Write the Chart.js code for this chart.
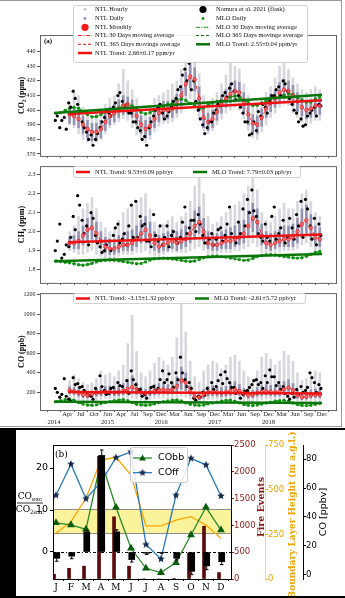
<!DOCTYPE html>
<html>
<head>
<title>NTL greenhouse gases</title>
<script src="https://cdn.jsdelivr.net/npm/chart.js@4.4.1/dist/chart.umd.min.js"></script>
<style>
  body { margin: 0; width: 345px; height: 598px; background: #fff; position: relative; overflow: hidden; }
  canvas { position: absolute; }
  #fig { position: absolute; left: 0; top: 0; width: 342px; height: 427px; border-top: 1px solid #999; border-right: 1px solid #999; border-bottom: 1px solid #999; box-sizing: border-box; }
  #dark { position: absolute; left: 0; top: 428px; width: 345px; height: 170px; background: #000; }
</style>
</head>
<body>
<div id="fig"></div>
<div id="dark"></div>
<canvas id="co2" width="345" height="161" style="left:0;top:0"></canvas>
<canvas id="ch4" width="345" height="127" style="left:0;top:161px"></canvas>
<canvas id="co" width="345" height="140" style="left:0;top:288px"></canvas>
<canvas id="seas" width="329" height="166" style="left:16px;top:430px;background:#fff"></canvas>

<script>
// ---- panel (a): monthly values, index 0 = Jan 2014 ----
const xTickPos = [0,3,6,9,12,15,18,21,24,27,30,33,36,39,42,45,48,51,54,57,60];
const xTickLabels = [['','2014'],'Apr','Jul','Oct',['Jan','2015'],'Apr','Jul','Sep',['Dec','2016'],'Mar','Jun','Sep',
  ['Dec','2017'],'Mar','Jun','Sep',['Dec','2018'],'Mar','Jun','Sep','Dec'];
const ntlTrendX = [3.2, 60];
const mloTrendX = [0, 60];

const co2Ticks = [370,380,390,400,410,420,430,440];
const co2Ntl = [null,null,null,397,396,394,390,387,385,385,387,392,396,398,401,403,404,401,396,390,387,389,394,398,
  400,400,401,404,410,418,423,421,408,395,392,394,399,404,408,411,413,412,405,397,391,390,395,401,405,408,412,414,413,
  410,406,402,400,401,403,403];
const co2HourlyHi = [null,null,null,405,412,410,402,398,396,398,400,404,408,410,418,428,420,414,408,400,398,402,408,
  410,412,414,418,420,428,440,445,440,425,410,406,408,412,418,424,432,430,428,418,410,404,403,408,412,416,422,430,432,
  428,422,418,414,412,414,416,414];
const co2HourlyLo = [null,null,null,390,388,384,380,378,377,378,380,384,388,390,392,394,393,388,383,380,378,380,385,
  389,391,391,392,395,398,404,408,404,394,386,384,386,390,394,398,400,402,400,394,386,381,380,385,390,395,398,402,404,
  403,398,395,392,390,391,393,393];
const co2DailyHi = [null,null,null,402,401,400,396,393,391,391,393,398,402,404,407,410,409,407,402,396,393,395,400,
  404,406,406,407,411,417,426,431,429,416,402,398,400,405,410,414,418,420,419,412,404,397,396,401,407,411,414,419,421,
  420,417,412,408,406,407,409,409];
const co2DailyLo = [null,null,null,391,390,388,384,381,379,379,381,386,390,392,395,397,398,395,390,384,381,383,388,
  392,394,394,395,398,403,410,415,413,400,388,386,388,393,398,402,405,407,406,398,390,385,384,389,395,399,402,406,408,
  407,403,399,396,394,395,397,397];
const co2Mlo = [397.8,398.3,399.8,401.3,401.8,401.3,399.0,397.0,395.4,395.6,397.0,398.7,
  399.9,400.3,401.5,403.3,403.9,402.8,401.0,398.5,397.5,398.3,400.0,401.9,
  402.5,404.0,404.8,407.5,407.7,406.8,404.5,402.9,401.0,401.6,403.6,404.9,
  406.0,406.4,407.1,409.0,409.7,408.8,407.0,405.1,403.2,403.3,405.0,406.6,
  407.9,408.3,409.4,410.2,411.2,410.8,408.7,406.9,405.5,405.6,407.4,409.0];
const co2FlaskA = [393,388,395,405,413,404,392,385,383,380,388,395, 398,402,410,406,404,398,392,386,382,388,396,402,
  398,396,402,408,416,428,432,420,400,390,388,392, 400,406,412,415,413,410,398,392,384,386,396,402,
  406,410,416,420,413,404,398,394,390,398,402,404];
const co2FlaskB = [396,393,387,402,408,398,388,380,376,384,392,400, 396,405,412,402,398,392,388,380,376,392,400,404,
  394,399,406,414,424,420,414,406,394,384,392,398, 404,410,409,418,407,402,392,383,392,399,404,398,
  410,414,410,418,408,400,392,389,396,400,396,403];
const co2NtlTrend = [397.3, 406.7];
const co2MloTrend = [398.0, 410.5];

const ch4Ticks = [1.8,1.9,2.0,2.1,2.2,2.3];
const ch4Ntl = [null,null,null,1.94,1.94,1.95,1.98,2.01,2.02,1.99,1.95,1.92,1.91, 1.91,1.92,1.93,1.93,1.94,1.96,1.99,2.01,1.98,1.94,
  1.92,1.93,1.94,1.95,1.94,1.95,1.96,1.99,2.03,2.05, 2.00,1.94,1.93,1.93,1.94,1.95,1.95,1.96,1.97,1.99,
  2.03,2.07,2.05,1.98,1.94,1.93,1.94,1.95,1.96,1.96, 1.97,2.00,2.04,2.06,2.02,1.97,1.96];
const ch4HourlyHi = [null,null,null,2.00,2.03,2.08,2.12,2.15,2.18,2.12,2.05,2.02,2.00, 2.02,2.06,2.10,2.12,2.14,2.16,2.18,2.20,2.12,2.05,
  2.02,2.04,2.06,2.08,2.05,2.08,2.10,2.16,2.24,2.30, 2.20,2.08,2.04,2.05,2.08,2.10,2.12,2.14,2.16,2.20,
  2.24,2.28,2.22,2.10,2.06,2.05,2.08,2.12,2.15,2.12, 2.12,2.16,2.20,2.22,2.16,2.10,2.08];
const ch4HourlyLo = [null,null,null,1.90,1.89,1.88,1.88,1.89,1.90,1.88,1.87,1.86,1.86, 1.86,1.87,1.88,1.88,1.88,1.89,1.89,1.90,1.88,1.87,
  1.87,1.88,1.89,1.89,1.89,1.89,1.89,1.90,1.91,1.92, 1.90,1.88,1.88,1.88,1.89,1.89,1.89,1.90,1.90,1.91,
  1.92,1.94,1.92,1.89,1.88,1.88,1.89,1.89,1.90,1.90, 1.90,1.91,1.93,1.94,1.92,1.90,1.90];
const ch4DailyHi = [null,null,null,1.97,1.98,2.00,2.03,2.07,2.09,2.05,2.00,1.97,1.96, 1.96,1.98,1.99,2.00,2.01,2.03,2.06,2.08,2.05,2.00,
  1.98,1.99,2.00,2.01,2.00,2.01,2.03,2.06,2.11,2.13, 2.07,2.00,1.99,1.99,2.00,2.01,2.02,2.03,2.04,2.06,
  2.11,2.15,2.12,2.04,2.00,1.99,2.00,2.01,2.03,2.03, 2.04,2.07,2.12,2.14,2.09,2.03,2.02];
const ch4DailyLo = [null,null,null,1.92,1.91,1.91,1.93,1.95,1.96,1.94,1.91,1.89,1.88, 1.88,1.89,1.90,1.90,1.90,1.92,1.94,1.95,1.93,1.90,
  1.89,1.90,1.90,1.91,1.90,1.91,1.92,1.94,1.97,1.99, 1.95,1.91,1.90,1.90,1.91,1.91,1.91,1.92,1.93,1.94,
  1.97,2.00,1.98,1.93,1.91,1.90,1.91,1.92,1.92,1.92, 1.92,1.94,1.97,1.99,1.96,1.93,1.92];
const ch4Mlo = [1.845,1.842,1.838,1.835,1.830,1.825,1.822,1.826,1.832,1.840,1.846,1.848,
  1.850,1.849,1.846,1.842,1.838,1.834,1.830,1.832,1.840,1.850,1.856,1.858,
  1.860,1.858,1.855,1.852,1.848,1.845,1.842,1.845,1.852,1.862,1.868,1.870,
  1.870,1.868,1.865,1.860,1.856,1.852,1.848,1.850,1.858,1.868,1.874,1.876,
  1.878,1.876,1.872,1.868,1.865,1.862,1.860,1.862,1.870,1.880,1.890,1.895];
const ch4FlaskA = [1.90,2.04,1.88,1.92,2.08,2.19,2.06,2.03,2.10,1.98,1.92,1.90, 1.95,1.98,2.04,1.96,1.93,2.14,2.16,2.08,2.04,1.95,2.09,1.95,
  1.93,2.03,1.98,1.96,1.97,2.13,2.02,2.06,2.09,1.98,1.94,1.99, 1.96,2.02,1.98,2.13,1.97,2.05,2.12,2.17,2.22,2.08,1.97,2.04,
  1.95,2.13,1.99,2.06,1.97,2.02,2.09,2.16,2.17,2.03,2.07,2.04];
const ch4FlaskB = [1.95,1.86,1.93,1.97,2.01,2.14,1.99,1.93,2.07,1.94,1.89,1.93, 1.90,2.02,1.94,1.99,2.03,1.97,1.97,2.03,1.95,1.92,1.98,2.03,
  1.97,1.92,2.00,1.94,2.05,1.99,2.06,2.00,2.04,1.94,1.96,1.93, 2.01,1.95,2.04,1.99,1.94,1.99,2.03,2.10,2.11,1.99,1.95,1.97,
  2.08,1.96,2.02,1.94,2.07,1.96,2.03,1.97,2.12,1.96,1.93,1.98];
const ch4NtlTrend = [1.944, 1.985];
const ch4MloTrend = [1.843, 1.882];

const coTicks = [200,400,600,800,1000,1200];
const coNtl = [null,null,null,220,210,195,175,170,180,195,200,205,205, 200,205,215,235,253,230,200,190,200,215,
  225,228,220,230,260,320,300,210,155,150, 175,200,205,200,195,200,215,228,215,190,
  170,175,195,205,210,205,200,210,230,250, 220,170,150,155,170,175,175];
const coHourlyHi = [null,null,null,320,380,340,300,280,300,340,420,380,400, 360,420,480,700,990,620,400,360,420,500,
  560,520,480,560,760,1100,820,520,360,300, 420,480,520,500,440,480,560,580,520,420,
  360,340,420,560,600,540,480,520,620,580, 520,400,320,340,380,420,400];
const coHourlyLo = [null,null,null,150,140,120,110,105,110,120,130,135,135, 130,130,135,140,145,135,120,115,125,135,
  140,140,135,140,150,160,150,130,105,100, 110,125,130,130,125,125,130,135,130,115,
  105,105,115,125,130,130,125,130,135,140, 130,110,100,100,105,110,110];
const coDailyHi = [null,null,null,260,250,230,210,200,215,240,260,260,265, 250,265,290,330,370,300,250,230,250,280,
  290,300,280,300,360,460,400,270,200,190, 230,260,270,260,250,260,290,310,280,240,
  215,220,250,270,280,270,260,280,310,330, 290,220,190,200,225,235,230];
const coDailyLo = [null,null,null,185,175,160,145,140,150,160,165,170,170, 165,165,175,185,195,180,160,155,165,175,
  180,185,180,185,200,230,215,170,130,125, 140,160,165,160,155,160,170,180,170,155,
  140,145,160,165,170,165,160,165,180,190, 175,140,125,130,140,145,145];
const coMlo = [105,115,125,130,120,95,80,70,68,72,85,95, 105,115,120,125,115,95,78,70,68,72,82,95,
  105,112,120,122,112,92,78,70,66,70,82,92, 100,110,118,120,110,92,76,68,65,70,80,90,
  98,108,115,118,108,90,75,66,64,68,78,88];
const coFlaskA = [240,150,340,130,350,290,260,200,160,240,370,220, 190,250,300,260,320,420,280,230,180,200,260,240,
  420,330,300,400,560,330,300,140,160,200,240,300, 260,380,410,300,250,200,180,220,280,330,300,370,
  430,360,300,260,160,190,230,260,220,400,300,280];
const coFlaskB = [200,180,160,110,280,250,220,170,130,200,260,180, 240,200,270,210,190,330,230,160,140,250,220,330,
  300,390,250,330,400,260,240,120,150,170,200,230, 320,290,340,250,190,140,210,250,320,280,240,300,
  360,270,230,190,130,150,180,200,250,350,200,240];
const coNtlTrend = [203, 188];
const coMloTrend = [103, 90];

// ---- panel (b): monthly climatology ----
const monthLetters = ['J','F','M','A','M','J','J','A','S','O','N','D'];
const coRatio = [-1.5,-1.0,4.8,23.0,4.8,-1.8,-0.3,-0.1,-1.5,-4.6,-3.3,-2.3];
const coRatioErr = [0.7,0.6,0.3,1.3,0.5,0.6,0.3,0.2,0.4,0.8,0.9,0.7];
const fireEvents = [90,200,240,2290,1160,240,0,0,10,485,985,120];
const blh = [256,321,452,666,681,582,297,297,330,349,302,228];
const coBB = [36,34.5,31.5,79,46.7,18.4,4.6,1.6,8.5,27.6,46.7,31];
const coFF = [55,76.5,52.6,64,81,85,21,11,55,80.5,76,54.5];
const ratioBand = [4.5, 10.3];
const ratioTicks = [0,10,20];
const fireTicks = [0,500,1000,1500,2000,2500];
const blhTicks = [0,250,500,750];
const coppbvTicks = [0,20,40,60,80];

Chart.defaults.font.family = 'Liberation Serif';
Chart.defaults.color = '#222';

function pts(arr, shift) {
  return arr.map((v, i) => v == null ? null : {x: i + shift, y: v}).filter(Boolean);
}
function ranges(lo, hi) {
  return lo.map((v, i) => v == null ? null : {x: i + 0.5, y: [v, hi[i]]}).filter(Boolean);
}
function trend(xs, ys) {
  return [{x: xs[0], y: ys[0]}, {x: xs[1], y: ys[1]}];
}

function drawSym(ctx, kind, color, x, y) {
  ctx.save();
  ctx.fillStyle = color; ctx.strokeStyle = color;
  if (kind === 'dot' || kind === 'big') {
    ctx.beginPath();
    ctx.arc(x, y, kind === 'big' ? 3.6 : 1.4, 0, 2 * Math.PI);
    ctx.fill();
  } else {
    ctx.lineWidth = kind === 'thick' ? 2.5 : 1;
    ctx.setLineDash(kind === 'dashdot' ? [4, 1.5, 1, 1.5] : kind === 'dash' ? [3, 2] : []);
    ctx.beginPath(); ctx.moveTo(x - 7, y); ctx.lineTo(x + 7, y); ctx.stroke();
  }
  ctx.restore();
}

function legendBox(ctx, x, y, w, h) {
  ctx.save();
  ctx.fillStyle = 'rgba(255,255,255,0.92)';
  ctx.strokeStyle = '#cfcfcf';
  ctx.lineWidth = 1;
  ctx.beginPath();
  ctx.roundRect(x + 0.5, y + 0.5, w, h, 2);
  ctx.fill(); ctx.stroke();
  ctx.restore();
}

function framePlugin(legend) {
  return {
    id: 'frame',
    afterDraw(chart) {
      const {ctx, chartArea: a} = chart;
      ctx.save();
      ctx.strokeStyle = '#666';
      ctx.lineWidth = 1;
      ctx.strokeRect(a.left + 0.5, a.top + 0.5, a.right - a.left, a.bottom - a.top);
      ctx.restore();
      legend(ctx);
    }
  };
}

function timePanel(id, o) {
  return new Chart(document.getElementById(id), {
    type: 'scatter',
    data: {
      datasets: [
        {type: 'bar', data: ranges(o.hLo, o.hHi), backgroundColor: 'rgba(150,150,168,0.38)', barThickness: 2, grouped: false, order: 9},
        {type: 'bar', data: ranges(o.dLo, o.dHi), backgroundColor: 'rgba(80,80,140,0.5)', barThickness: 2, grouped: false, order: 8},
        {type: 'line', data: pts(o.mlo, 0.5), borderColor: '#2a9a2a', borderWidth: 1.4, borderDash: [4, 1.5, 1, 1.5],
          pointRadius: 1.7, pointBackgroundColor: '#129212', pointBorderWidth: 0, order: 7},
        {data: pts(o.flaskA, 0.3), pointRadius: 1.6, backgroundColor: '#000', borderWidth: 0, order: 5},
        {data: pts(o.flaskB, 0.75), pointRadius: 1.6, backgroundColor: '#000', borderWidth: 0, order: 5},
        {type: 'line', data: pts(o.ntl, 0.5), borderColor: '#ff2a2a', borderWidth: 1, borderDash: [4, 1.5, 1, 1.5],
          pointRadius: 1.8, pointBackgroundColor: 'rgba(255,110,110,0.75)', pointBorderColor: '#e00', pointBorderWidth: 0.6, order: 3},
        {type: 'line', data: trend(ntlTrendX, o.ntlTrend), borderColor: '#ee1111', borderWidth: 2.5, pointRadius: 0, order: 2},
        {type: 'line', data: trend(mloTrendX, o.mloTrend), borderColor: '#0a760a', borderWidth: 2.5, pointRadius: 0, order: 1}
      ]
    },
    options: {
      responsive: false, animation: false, events: [],
      layout: {padding: {left: 0, right: 9, top: o.padTop, bottom: 0}},
      plugins: {legend: {display: false}, tooltip: {enabled: false}},
      scales: {
        x: {
          type: 'linear', min: -3.13, max: 63.13, offset: false,
          afterBuildTicks: s => { s.ticks = xTickPos.map(v => ({value: v})); },
          afterFit: s => { s.height = o.xHeight; },
          grid: {drawOnChartArea: false, drawTicks: true, tickLength: 2, color: '#555'},
          border: {display: false},
          ticks: {autoSkip: false, maxRotation: 0, minRotation: 0, padding: -2,
            font: {size: 6.5, lineHeight: 1.3}, color: '#222',
            callback: (v, i) => o.showX ? xTickLabels[i] : ''}
        },
        y: {
          min: o.yMin, max: o.yMax,
          afterBuildTicks: s => { s.ticks = o.yTicks.map(v => ({value: v})); },
          afterFit: s => { s.width = 40; },
          grid: {drawOnChartArea: false, tickLength: 3, color: '#555'},
          border: {display: false},
          ticks: {padding: 1.5, font: {size: 6}, color: '#222', callback: o.fmt},
          title: {display: true, text: o.title, color: '#000', font: {size: 8, weight: 'bold'}, padding: {top: 17, bottom: 0}}
        }
      }
    },
    plugins: [framePlugin(o.legend)]
  });
}

function legendFont(ctx) {
  ctx.font = '6.5px "Liberation Serif"';
  ctx.fillStyle = '#111';
  ctx.textBaseline = 'middle';
  ctx.textAlign = 'left';
}

timePanel('co2', {
  ntl: co2Ntl, hLo: co2HourlyLo, hHi: co2HourlyHi, dLo: co2DailyLo, dHi: co2DailyHi, mlo: co2Mlo,
  flaskA: co2FlaskA, flaskB: co2FlaskB, ntlTrend: co2NtlTrend, mloTrend: co2MloTrend,
  yMin: 368.7, yMax: 451.4, yTicks: co2Ticks, fmt: v => String(v), title: 'CO\u2082 (ppm)',
  padTop: 35, xHeight: 3, showX: false,
  legend: ctx => {
    ctx.save();
    ctx.font = 'bold 7px "Liberation Serif"'; ctx.fillStyle = '#000'; ctx.textBaseline = 'middle';
    ctx.fillText('(a)', 44, 41.5);
    legendBox(ctx, 73, 5, 234, 57);
    legendFont(ctx);
    const rows = [9.5, 18.5, 27.3, 35.5, 44.3, 53];
    const left = [['dot', '#c4c4cc', 'NTL Hourly'], ['dot', '#8d8dd8', 'NTL Daily'], ['big', '#ff1a1a', 'NTL Monthly'],
      ['dashdot', '#ff2a2a', 'NTL 30 Days moving average'], ['dash', '#e01010', 'NTL 365 Days movinge average'],
      ['thick', '#ee1111', 'NTL Trend: 2.66\u00b10.17 ppm/yr']];
    const right = [['big', '#000', 'Nomura et al. 2021 (flask)'], ['dot', '#129212', 'MLO Daily'],
      ['dashdot', '#1a9a1a', 'MLO 30 Days moving average'], ['dash', '#0a760a', 'MLO 365 Days movinge average'],
      ['thick', '#0a760a', 'MLO Trend: 2.55\u00b10.04 ppm/yr']];
    left.forEach((e, i) => { drawSym(ctx, e[0], e[1], 85, rows[i]); ctx.fillText(e[2], 95, rows[i]); });
    right.forEach((e, i) => { drawSym(ctx, e[0], e[1], 203, rows[i]); ctx.fillText(e[2], 216, rows[i]); });
    ctx.restore();
  }
});

timePanel('ch4', {
  ntl: ch4Ntl, hLo: ch4HourlyLo, hHi: ch4HourlyHi, dLo: ch4DailyLo, dHi: ch4DailyHi, mlo: ch4Mlo,
  flaskA: ch4FlaskA, flaskB: ch4FlaskB, ntlTrend: ch4NtlTrend, mloTrend: ch4MloTrend,
  yMin: 1.729, yMax: 2.346, yTicks: ch4Ticks, fmt: v => v.toFixed(1), title: 'CH\u2084 (ppm)',
  padTop: 2, xHeight: 4, showX: false,
  legend: ctx => {
    ctx.save();
    legendBox(ctx, 73, 5, 227, 11);
    legendFont(ctx);
    drawSym(ctx, 'thick', '#ee1111', 83, 11); ctx.fillText('NTL Trend: 9.53\u00b10.09 ppb/yr', 95, 11);
    drawSym(ctx, 'thick', '#0a760a', 200, 11); ctx.fillText('MLO Trend: 7.79\u00b10.03 ppb/yr', 212, 11);
    ctx.restore();
  }
});

timePanel('co', {
  ntl: coNtl, hLo: coHourlyLo, hHi: coHourlyHi, dLo: coDailyLo, dHi: coDailyHi, mlo: coMlo,
  flaskA: coFlaskA, flaskB: coFlaskB, ntlTrend: coNtlTrend, mloTrend: coMloTrend,
  yMin: 19, yMax: 1217, yTicks: coTicks, fmt: v => String(v), title: 'CO (ppb)',
  padTop: 1, xHeight: 18, showX: true,
  legend: ctx => {
    ctx.save();
    legendBox(ctx, 73, 5, 232, 10);
    legendFont(ctx);
    drawSym(ctx, 'thick', '#ee1111', 83, 10.5); ctx.fillText('NTL Trend: -3.15\u00b11.32 ppb/yr', 95, 10.5);
    drawSym(ctx, 'thick', '#0a760a', 202, 10.5); ctx.fillText('MLO Trend: -2.61\u00b15.72 ppb/yr', 214, 10.5);
    ctx.restore();
  }
});

// ---- panel (b) ----
function starImage(color, r) {
  const c = document.createElement('canvas');
  c.width = c.height = 2 * r + 2;
  const g = c.getContext('2d');
  g.fillStyle = color;
  g.beginPath();
  for (let k = 0; k < 10; k++) {
    const a = -Math.PI / 2 + k * Math.PI / 5;
    const rr = k % 2 ? r * 0.45 : r;
    g.lineTo(r + 1 + rr * Math.cos(a), r + 1 + rr * Math.sin(a));
  }
  g.closePath();
  g.fill();
  return c;
}
const star = starImage('#142a4a', 4);

const fireShift = -0.13, ratioShift = 0.05;

const seasPlugin = {
  id: 'seas',
  beforeDatasetsDraw(chart) {
    const {ctx, chartArea: a, scales: {y}} = chart;
    const top = y.getPixelForValue(ratioBand[1]), bot = y.getPixelForValue(ratioBand[0]);
    ctx.save();
    ctx.fillStyle = '#faf39c';
    ctx.fillRect(a.left, top, a.right - a.left, bot - top);
    ctx.strokeStyle = '#8c8c8c'; ctx.lineWidth = 1;
    ctx.beginPath();
    ctx.moveTo(a.left, Math.round(top) + 0.5); ctx.lineTo(a.right, Math.round(top) + 0.5);
    ctx.moveTo(a.left, Math.round(bot) + 0.5); ctx.lineTo(a.right, Math.round(bot) + 0.5);
    ctx.stroke();
    const z = Math.round(y.getPixelForValue(0)) + 0.5;
    ctx.strokeStyle = '#000'; ctx.setLineDash([3, 2, 1, 2]);
    ctx.beginPath(); ctx.moveTo(a.left, z); ctx.lineTo(a.right, z); ctx.stroke();
    ctx.restore();
  },
  afterDatasetsDraw(chart) {
    const {ctx, scales: {y}} = chart;
    const meta = chart.getDatasetMeta(1);
    ctx.save();
    ctx.strokeStyle = '#000'; ctx.lineWidth = 1;
    meta.data.forEach((el, i) => {
      const v = coRatio[i];
      const end = y.getPixelForValue(v + (v >= 0 ? 1 : -1) * coRatioErr[i]);
      ctx.beginPath();
      ctx.moveTo(el.x, el.y); ctx.lineTo(el.x, end);
      ctx.moveTo(el.x - 1.8, end); ctx.lineTo(el.x + 1.8, end);
      ctx.stroke();
    });
    ctx.restore();
  },
  afterDraw(chart) {
    const {ctx, chartArea: a} = chart;
    ctx.save();
    ctx.strokeStyle = '#000'; ctx.lineWidth = 1;
    ctx.strokeRect(a.left + 0.5, a.top + 0.5, a.right - a.left, a.bottom - a.top);

    ctx.fillStyle = '#000'; ctx.textBaseline = 'middle'; ctx.textAlign = 'left';
    ctx.font = '9px "DejaVu Serif"';
    ctx.fillText('(b)', 39, 25);

    // legend
    ctx.fillStyle = 'rgba(255,255,255,0.85)';
    ctx.strokeStyle = '#cccccc';
    ctx.beginPath(); ctx.roundRect(114.5, 17.5, 57, 35, 2); ctx.fill(); ctx.stroke();
    ctx.lineWidth = 1.3;
    ctx.strokeStyle = '#2a8a2a';
    ctx.beginPath(); ctx.moveTo(117, 28); ctx.lineTo(136, 28); ctx.stroke();
    ctx.fillStyle = '#0b5d0b';
    ctx.beginPath(); ctx.moveTo(126.5, 24.5); ctx.lineTo(130, 30.5); ctx.lineTo(123, 30.5); ctx.closePath(); ctx.fill();
    ctx.strokeStyle = '#2b7bb9';
    ctx.beginPath(); ctx.moveTo(117, 42.7); ctx.lineTo(136, 42.7); ctx.stroke();
    ctx.drawImage(star, 126.5 - 5, 42.7 - 5);
    ctx.fillStyle = '#000';
    ctx.font = '9.5px "DejaVu Sans"';
    ctx.fillText('CObb', 142, 28);
    ctx.fillText('COff', 142, 42.7);

    // rotated axis titles
    const vtext = (t, x, y, font, color) => {
      ctx.save();
      ctx.translate(x, y); ctx.rotate(-Math.PI / 2);
      ctx.textAlign = 'center'; ctx.textBaseline = 'middle';
      ctx.font = font; ctx.fillStyle = color;
      ctx.fillText(t, 0, 0);
      ctx.restore();
    };
    vtext('Fire Events', 245.5, 77, 'bold 9.5px "DejaVu Serif"', '#8b1a1a');
    vtext('Boundary Layer Height (m a.g.l.)', 277, 85, 'bold 9px "DejaVu Serif"', '#f0a400');
    vtext('CO [ppbv]', 307.5, 82, '9.5px "DejaVu Sans"', '#000');

    // left fraction label
    const frac = (main, sub, cy) => {
      ctx.font = '9px "DejaVu Serif"';
      const w1 = ctx.measureText(main).width;
      ctx.font = '6px "DejaVu Serif"';
      const w2 = ctx.measureText(sub).width;
      const x0 = 14 - (w1 + w2) / 2;
      ctx.fillStyle = '#000'; ctx.textAlign = 'left'; ctx.textBaseline = 'middle';
      ctx.font = '9px "DejaVu Serif"';
      ctx.fillText(main, x0, cy);
      ctx.font = '6px "DejaVu Serif"';
      ctx.fillText(sub, x0 + w1, cy + 2.5);
    };
    frac('CO', 'exc', 66.5);
    ctx.strokeStyle = '#000'; ctx.lineWidth = 0.8;
    ctx.beginPath(); ctx.moveTo(1, 73); ctx.lineTo(27, 73); ctx.stroke();
    frac('CO', '2exc', 79.5);
    ctx.restore();
  }
};

const monthScale = {
  type: 'linear', min: -0.2, max: 11.67, offset: false,
  afterBuildTicks: s => { s.ticks = monthLetters.map((m, i) => ({value: i})); },
  afterFit: s => { s.height = 17; },
  grid: {drawOnChartArea: false, tickLength: 2, color: '#000'},
  border: {display: false},
  ticks: {autoSkip: false, maxRotation: 0, padding: 1, color: '#000',
    font: {family: 'DejaVu Serif', size: 9}, callback: (v, i) => monthLetters[i]}
};

function sideScale(min, max, ticks, color, width, weight, borderColor, size) {
  return {
    type: 'linear', position: 'right', min: min, max: max, weight: weight,
    afterBuildTicks: s => { s.ticks = ticks.map(v => ({value: v})); },
    afterFit: s => { s.width = width; },
    grid: {drawOnChartArea: false, tickLength: 3, color: color},
    border: borderColor ? {display: true, color: borderColor} : {display: false},
    ticks: {padding: 0, color: color, font: {family: 'DejaVu Sans', size: size}, callback: v => String(v)}
  };
}

new Chart(document.getElementById('seas'), {
  type: 'scatter',
  data: {
    datasets: [
      {type: 'bar', data: fireEvents.map((v, i) => ({x: i + fireShift, y: v})), yAxisID: 'yfire',
        backgroundColor: '#5c0a0a', barThickness: 3, grouped: false, order: 1},
      {type: 'bar', data: coRatio.map((v, i) => ({x: i + ratioShift, y: v})), yAxisID: 'y',
        backgroundColor: '#000', barThickness: 6, grouped: false, order: 0},
      {type: 'line', data: blh.map((v, i) => ({x: i, y: v})), yAxisID: 'yblh',
        borderColor: '#ffa500', borderWidth: 1.3, pointRadius: 0, order: 4},
      {type: 'line', data: coBB.map((v, i) => ({x: i, y: v})), yAxisID: 'yco',
        borderColor: '#2a8a2a', borderWidth: 1.3, pointStyle: 'triangle', pointRadius: 3.3,
        pointBackgroundColor: '#0b5d0b', pointBorderColor: '#0b5d0b', order: 3},
      {type: 'line', data: coFF.map((v, i) => ({x: i, y: v})), yAxisID: 'yco',
        borderColor: '#2b7bb9', borderWidth: 1.3, pointStyle: star, order: 2}
    ]
  },
  options: {
    responsive: false, animation: false, events: [],
    layout: {padding: {left: 0, right: 0, top: 15, bottom: 0}},
    plugins: {legend: {display: false}, tooltip: {enabled: false}},
    scales: {
      x: monthScale,
      y: {
        min: -6.43, max: 25.48,
        afterBuildTicks: s => { s.ticks = ratioTicks.map(v => ({value: v})); },
        afterFit: s => { s.width = 37; },
        grid: {drawOnChartArea: false, tickLength: 3, color: '#000'},
        border: {display: false},
        ticks: {padding: 2, color: '#000', font: {family: 'DejaVu Sans', size: 9.5}, callback: v => String(v)}
      },
      yfire: sideScale(0, 2500, fireTicks, '#8b1a1a', 34, 0, null, 8.5),
      yblh: sideScale(0, 750, blhTicks, '#f0a400', 38, 1, '#dcd6c8', 8.5),
      yco: sideScale(-2.8, 89.7, coppbvTicks, '#000', 42, 2, '#000', 8.5)
    }
  },
  plugins: [seasPlugin]
});
</script>
</body>
</html>
